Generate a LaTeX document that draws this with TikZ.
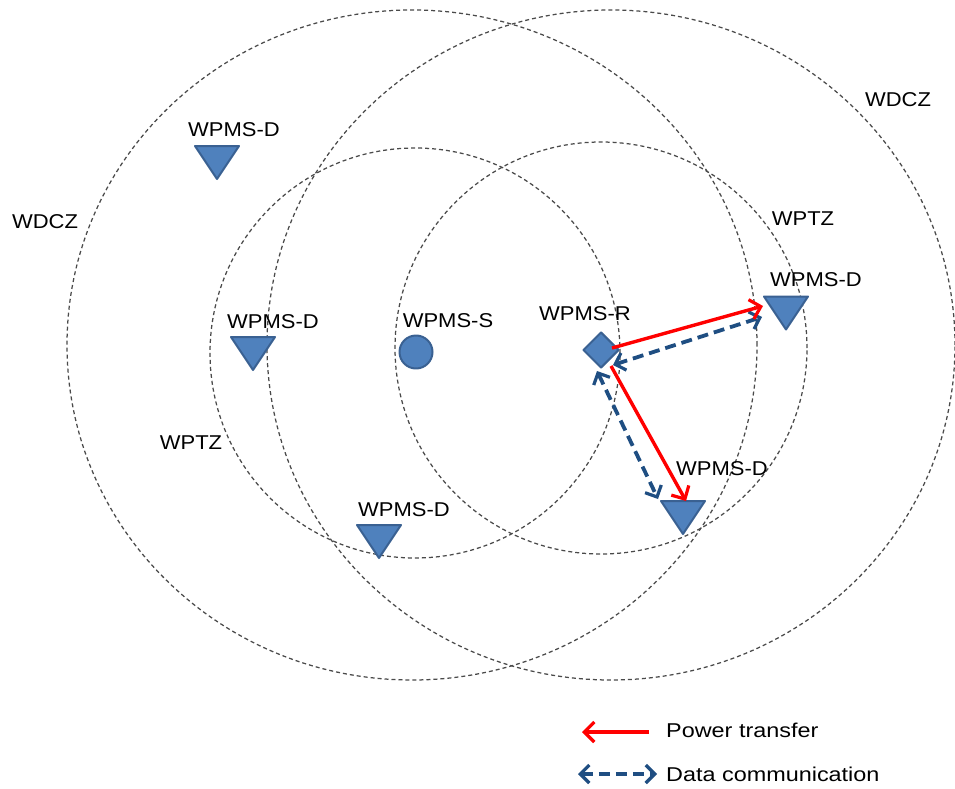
\documentclass[tikz,border=0pt]{standalone}
\usepackage{fontspec}
\usepackage{graphicx}
\setmainfont{Liberation Sans}
\usetikzlibrary{shapes.geometric,arrows.meta,calc}
\definecolor{devfill}{HTML}{4F81BD}
\definecolor{devline}{HTML}{3A6192}
\definecolor{datablue}{HTML}{1F4E82}
\definecolor{zonegray}{HTML}{4A4A4A}
\newcommand{\lbltxt}[1]{\scalebox{1.1}[1]{#1}}
\newcommand{\legtxt}[1]{\scalebox{1.17}[1]{#1}}
\tikzset{
  zone/.style={draw=zonegray, line width=1.25pt, dash pattern=on 4pt off 3pt},
  dev/.style={fill=devfill, draw=devline, line width=2pt, line join=round},
  lbl/.style={font=\fontsize{20}{24}\selectfont, inner sep=0pt},
  pwr/.style={draw=red, line width=3.4pt, -{Straight Barb[length=10pt,width=20pt,line width=3.2pt]}},
  datalink/.style={draw=datablue, line width=3.8pt, dash pattern=on 11pt off 6pt,
    {Straight Barb[length=9pt,width=18pt,line width=3.2pt]}-{Straight Barb[length=9pt,width=18pt,line width=3.2pt]}}
}
\begin{document}
\begin{tikzpicture}[x=1pt,y=-1pt]
\useasboundingbox (0,0) rectangle (955,789);
% zones
\draw[zone] (412,345) ellipse [x radius=345pt, y radius=335pt];
\draw[zone] (611,345) ellipse [x radius=344pt, y radius=335pt];
\draw[zone] (415,353) circle [radius=205pt];
\draw[zone] (601,348) circle [radius=206pt];
% zone labels
\node[lbl] (zl1) at (45,222) {\lbltxt{WDCZ}};
\node[lbl] (zl2) at (898,100) {\lbltxt{WDCZ}};
\node[lbl] (zl3) at (803,219) {\lbltxt{WPTZ}};
\node[lbl] (zl4) at (191,443) {\lbltxt{WPTZ}};
% devices (triangle centres)
\coordinate (dA) at (217,162.5);
\coordinate (dB) at (253,353.5);
\coordinate (dC) at (379,541.5);
\coordinate (dD) at (786,313);
\coordinate (dE) at (683,517.5);
\foreach \d in {dA,dB,dC,dD,dE}{
  \draw[dev] ($(\d)+(-22,-16.5)$) -- ++(44,0) -- ++(-22,33) -- cycle;
}
\node[dev, circle, minimum size=33pt, inner sep=0pt] (S) at (416,352) {};
\node[dev, diamond, minimum size=36pt, inner sep=0pt] (R) at (601,350) {};
% device labels
\node[lbl] (tA) at (234,130) {\lbltxt{WPMS-D}};
\node[lbl] (tB) at (273,322) {\lbltxt{WPMS-D}};
\node[lbl] (tS) at (448,321) {\lbltxt{WPMS-S}};
\node[lbl] (tC) at (404,510) {\lbltxt{WPMS-D}};
\node[lbl] (tR) at (585,314) {\lbltxt{WPMS-R}};
\node[lbl] (tD) at (816,280) {\lbltxt{WPMS-D}};
\node[lbl] (tE) at (722,469) {\lbltxt{WPMS-D}};
% links
\draw[datalink] ($(R)+(12,15)$) -- ($(dD)+(-24,4)$);
\draw[datalink] ($(R)+(-4,21)$) -- ($(dE)+(-25,-18.5)$);
\draw[pwr] ($(R)+(11,-2)$) -- ($(dD)+(-23,-7)$);
\draw[pwr] ($(R)+(10,16)$) -- ($(dE)+(3,-16.5)$);
% legend
\coordinate (lp1) at (649,732);
\coordinate (lp2) at (582,732);
\coordinate (ld1) at (578,774);
\coordinate (ld2) at (657,774);
\draw[pwr] (lp1) -- (lp2);
\draw[datalink] (ld1) -- (ld2);
\node[lbl, anchor=west] (lt1) at (666,730) {\legtxt{Power transfer}};
\node[lbl, anchor=west] (lt2) at (666,774) {\legtxt{Data communication}};
\end{tikzpicture}
\end{document}
